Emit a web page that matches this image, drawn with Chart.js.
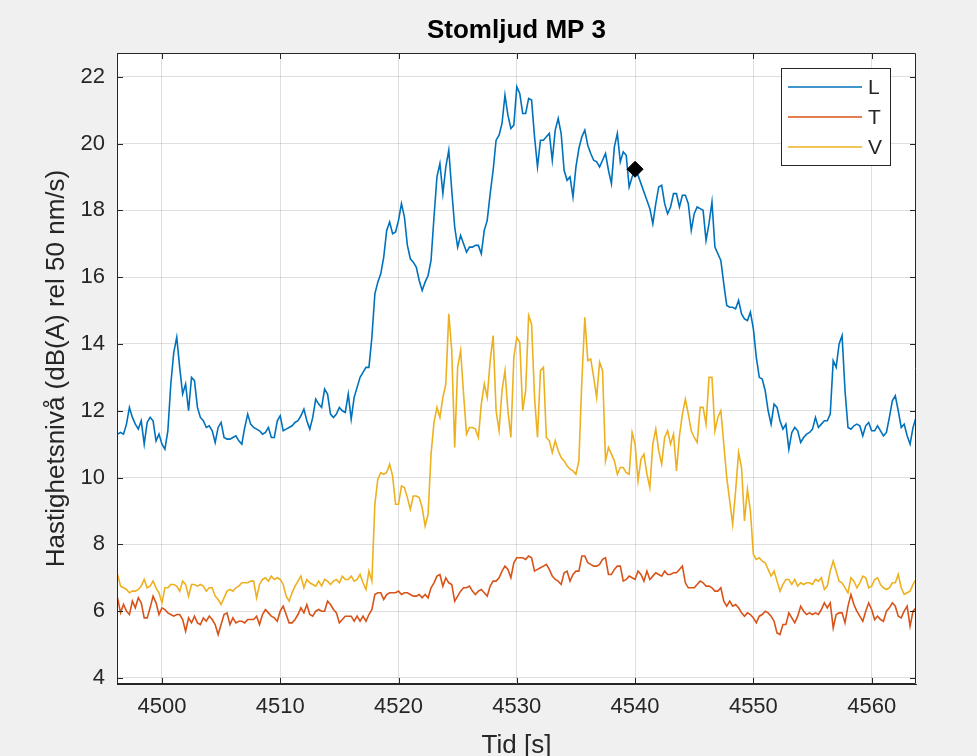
<!DOCTYPE html>
<html>
<head>
<meta charset="utf-8">
<title>Stomljud MP 3</title>
<script src="https://cdn.jsdelivr.net/npm/chart.js@4.4.1/dist/chart.umd.min.js"></script>
<style>
  html, body { margin: 0; padding: 0; background: #f0f0f0; }
  #wrap { width: 977px; height: 756px; }
</style>
</head>
<body>
<div id="wrap"><canvas id="chart" width="977" height="756"></canvas></div>
<script>
// texter
const chartTitle = "Stomljud MP 3";
const xLabel = "Tid [s]";
const yLabel = "Hastighetsnivå (dB(A) rel 50 nm/s)";
const seriesNames = ["L", "T", "V"];
const seriesColors = ["#0072BD", "#D95319", "#EDB120"];

// tidsaxel: ett värde var 0,25 s
const tStart = 4496.25;
const tStep = 0.25;
const xTicks = [4500, 4510, 4520, 4530, 4540, 4550, 4560];
const yTicks = [4, 6, 8, 10, 12, 14, 16, 18, 20, 22];

// avlästa nivåer (dB)
const L = [
  11.3, 11.35, 11.3, 11.6, 12.1, 11.8, 11.6, 11.45, 11.7, 11.0,
  11.65, 11.8, 11.7, 11.1, 11.3, 11.0, 10.85, 11.4, 12.8, 13.75,
  14.2, 13.3, 12.5, 12.8, 12.0, 13.0, 12.9, 12.1, 11.8, 11.7,
  11.5, 11.55, 11.4, 11.05, 11.5, 11.65, 11.2, 11.15, 11.15, 11.2,
  11.25, 11.1, 11.0, 11.5, 11.9, 11.6, 11.5, 11.45, 11.4, 11.3,
  11.35, 11.5, 11.2, 11.2, 11.7, 11.85, 11.4, 11.45, 11.5, 11.55,
  11.65, 11.7, 11.85, 12.05, 11.7, 11.45, 11.8, 12.35, 12.2, 12.1,
  12.65, 12.5, 11.9, 11.8, 11.9, 12.1, 12.0, 11.95, 12.5, 11.75,
  12.4, 12.7, 13.0, 13.15, 13.3, 13.3, 14.2, 15.5, 15.85, 16.1,
  16.6, 17.4, 17.65, 17.3, 17.35, 17.7, 18.2, 17.8, 16.95, 16.55,
  16.45, 16.3, 15.9, 15.6, 15.85, 16.05, 16.5, 17.8, 19.0, 19.4,
  18.5, 19.3, 19.8, 18.6, 17.5, 16.9, 17.25, 17.0, 16.75, 16.9,
  16.9, 16.95, 16.95, 16.7, 17.4, 17.7, 18.5, 19.2, 20.1, 20.25,
  20.6, 21.45, 20.85, 20.45, 20.55, 21.7, 21.5, 20.9, 20.9, 21.35,
  21.3, 20.2, 19.3, 20.1, 20.1, 20.2, 20.3, 19.5, 20.4, 20.75,
  20.3, 19.2, 18.9, 19.0, 18.4, 19.3, 19.85, 20.2, 20.4, 19.95,
  19.7, 19.5, 19.45, 19.3, 19.5, 19.7, 19.2, 18.8, 19.9, 20.3,
  19.45, 19.75, 19.65, 18.7, 19.0, 19.15, 19.05, 18.8, 18.55, 18.3,
  18.05, 17.6, 18.2, 18.7, 18.75, 18.2, 17.9, 18.1, 18.5, 18.5,
  18.1, 18.45, 18.45, 18.2, 17.4, 17.9, 18.1, 18.05, 18.0, 17.1,
  17.6, 18.25, 16.9, 16.7, 16.5, 15.8, 15.15, 15.1, 15.1, 15.05,
  15.3, 14.9, 14.75, 14.7, 14.95, 14.45, 13.6, 13.0, 12.95, 12.6,
  12.0, 11.6, 12.2, 12.1, 11.7, 11.45, 11.6, 10.85, 11.35, 11.5,
  11.4, 11.05, 11.2, 11.3, 11.35, 11.45, 11.8, 11.5, 11.6, 11.7,
  11.7, 11.9, 13.5, 13.3, 14.0, 14.25, 12.6, 11.5, 11.45, 11.55,
  11.6, 11.55, 11.25, 11.55, 11.65, 11.4, 11.4, 11.55, 11.4, 11.25,
  11.35, 11.8, 12.3, 12.45, 12.0, 11.5, 11.6, 11.25, 11.0, 11.5, 11.8
];

const T = [
  6.4, 5.95, 6.2, 6.0, 5.9, 6.3, 6.1, 6.4, 6.25, 5.8,
  5.8, 6.1, 6.45, 6.25, 5.9, 6.1, 6.05, 5.95, 5.9, 5.85,
  5.9, 5.9, 5.75, 5.4, 5.8, 5.65, 5.85, 5.65, 5.6, 5.8,
  5.7, 5.85, 5.75, 5.6, 5.3, 5.6, 5.9, 5.95, 5.6, 5.8,
  5.65, 5.7, 5.7, 5.65, 5.75, 5.75, 5.75, 5.85, 5.6, 5.9,
  6.05, 5.95, 5.85, 5.8, 5.7, 6.0, 6.15, 5.9, 5.65, 5.65,
  5.75, 5.9, 6.1, 5.95, 6.2, 5.9, 5.85, 6.0, 6.05, 6.0,
  6.0, 6.3, 6.2, 6.05, 5.95, 5.65, 5.75, 5.85, 5.85, 5.85,
  5.7, 5.85, 5.7, 5.85, 5.7, 5.9, 6.05, 6.5, 6.55, 6.55,
  6.35, 6.5, 6.55, 6.55, 6.55, 6.6, 6.5, 6.55, 6.55, 6.5,
  6.45, 6.45, 6.5, 6.4, 6.5, 6.4, 6.7, 6.85, 7.05, 7.1,
  6.75, 7.0, 6.85, 6.8, 6.3, 6.45, 6.6, 6.7, 6.7, 6.75,
  6.6, 6.5, 6.6, 6.65, 6.55, 6.45, 6.75, 6.9, 6.9, 7.0,
  7.2, 7.35, 7.25, 7.0, 7.45, 7.6, 7.6, 7.6, 7.55, 7.65,
  7.6, 7.2, 7.25, 7.3, 7.35, 7.4, 7.25, 7.05, 6.95, 6.9,
  6.8, 7.15, 7.2, 6.9, 7.1, 7.2, 7.2, 7.65, 7.65, 7.45,
  7.4, 7.35, 7.35, 7.4, 7.55, 7.6, 7.1, 7.1, 7.25, 7.35,
  7.35, 6.9, 6.95, 7.05, 7.0, 6.95, 7.2, 7.1, 6.9, 7.2,
  6.95, 7.05, 7.15, 7.1, 7.05, 7.2, 7.1, 7.1, 7.15, 7.15,
  7.25, 7.35, 6.85, 6.7, 6.7, 6.7, 6.8, 6.9, 6.85, 6.75,
  6.75, 6.7, 6.6, 6.6, 6.7, 6.3, 6.15, 6.3, 6.15, 6.2,
  6.1, 5.95, 5.85, 5.95, 5.9, 5.8, 5.65, 5.85, 5.9, 6.0,
  5.95, 5.85, 5.7, 5.35, 5.3, 5.6, 5.6, 5.95, 5.8, 5.65,
  5.85, 6.15, 6.0, 5.9, 5.95, 5.9, 5.95, 5.9, 6.05, 6.25,
  6.1, 6.25, 5.5, 5.9, 5.95, 5.95, 5.65, 6.15, 6.5, 6.2,
  6.0, 5.85, 5.7, 6.0, 6.25, 6.05, 5.75, 5.85, 5.75, 5.7,
  6.0, 6.1, 6.25, 6.15, 5.85, 5.8, 6.0, 6.15, 5.55, 6.0, 6.1
];

const V = [
  7.1, 6.75, 6.7, 6.65, 6.55, 6.6, 6.6, 6.65, 6.75, 6.95,
  6.7, 6.75, 6.9, 6.7, 6.55, 6.25, 6.7, 6.7, 6.8, 6.8,
  6.75, 6.6, 6.9, 6.8, 6.45, 6.8, 6.8, 6.75, 6.8, 6.75,
  6.6, 6.7, 6.7, 6.45, 6.35, 6.2, 6.4, 6.6, 6.65, 6.6,
  6.7, 6.75, 6.85, 6.85, 6.85, 6.9, 6.9, 6.4, 6.8, 6.95,
  7.0, 6.9, 7.05, 6.95, 7.0, 6.95, 6.8, 6.45, 6.3, 6.55,
  6.75, 6.9, 7.05, 6.7, 6.95, 6.85, 6.8, 6.75, 6.9, 6.75,
  6.95, 6.9, 6.8, 6.9, 6.95, 6.85, 7.05, 6.95, 6.95, 7.05,
  6.9, 6.95, 7.1, 6.85, 6.65, 7.2, 6.9, 9.2, 9.95, 10.15,
  10.1, 10.15, 10.4, 10.05, 9.2, 9.2, 9.75, 9.7, 9.4, 9.05,
  9.45, 9.45, 9.4, 9.1, 8.55, 8.9, 10.7, 11.65, 12.1, 11.8,
  12.4, 12.8, 14.9, 13.8, 10.9, 13.3, 13.8, 12.5, 11.3, 11.5,
  11.5, 11.45, 11.2, 12.2, 12.8, 12.4, 13.5, 14.25, 12.0, 11.4,
  12.6, 13.2, 12.0, 11.2, 13.6, 14.2, 14.05, 12.0, 12.6, 14.85,
  14.6, 12.4, 11.2, 13.2, 13.3, 11.2, 11.1, 10.75, 11.1, 10.8,
  10.6, 10.5, 10.35, 10.25, 10.2, 10.1, 10.5, 12.9, 14.8, 13.5,
  13.55, 13.0, 12.4, 13.45, 13.2, 10.5, 10.9, 10.7, 10.5, 10.1,
  10.3, 10.3, 10.15, 10.1, 11.35, 11.0, 9.9, 10.55, 10.7, 10.1,
  9.7, 11.0, 11.45, 10.8, 10.4, 11.2, 11.4, 11.0, 11.3, 10.2,
  11.25, 11.9, 12.35, 11.9, 11.4, 11.2, 11.05, 12.1, 12.1, 11.6,
  13.0, 13.0, 11.4, 11.8, 12.0, 11.0, 10.0, 9.3, 8.6, 9.6,
  10.75, 10.3, 8.7, 9.65, 9.0, 7.7, 7.55, 7.6, 7.5, 7.45,
  7.25, 7.05, 7.2, 6.9, 6.6, 6.8, 6.95, 6.95, 6.8, 6.95,
  6.75, 6.85, 6.8, 6.85, 6.85, 6.8, 6.95, 6.9, 7.0, 6.65,
  6.75, 7.2, 7.5, 7.2, 6.9, 6.85, 6.7, 6.55, 7.0, 6.9,
  6.7, 6.85, 7.05, 7.0, 6.7, 6.75, 6.95, 7.0, 6.8, 6.7,
  6.65, 6.7, 6.85, 6.85, 7.1, 6.7, 6.5, 6.55, 6.6, 6.8, 6.95
];

// markerad punkt
const markerTime = [4540];
const markerLevel = [19.23];

const times = L.map((_, i) => tStart + i * tStep);
const toPoints = (vals) => vals.map((v, i) => ({ x: times[i], y: v }));

const FONT = "'Liberation Sans', Arial, Helvetica, sans-serif";
const AXIS_COLOR = "#262626";
const GRID_COLOR = "rgba(38,38,38,0.15)";

// vit rityta
const plotBackground = {
  id: "plotBackground",
  beforeDraw(chart) {
    const { ctx, chartArea: a } = chart;
    ctx.save();
    ctx.fillStyle = "#ffffff";
    ctx.fillRect(a.left, a.top, a.right - a.left, a.bottom - a.top);
    ctx.restore();
  }
};

// ram + inåtriktade tickmarks på alla sidor (som i MATLAB)
const axesBox = {
  id: "axesBox",
  afterDatasetsDraw(chart) {
    const { ctx, chartArea: a, scales } = chart;
    const len = 6;
    ctx.save();
    ctx.strokeStyle = AXIS_COLOR;
    ctx.lineWidth = 1;
    ctx.beginPath();
    ctx.rect(a.left + 0.5, a.top + 0.5, a.right - a.left - 1, a.bottom - a.top - 1);
    scales.x.ticks.forEach(t => {
      const px = Math.round(scales.x.getPixelForValue(t.value)) + 0.5;
      ctx.moveTo(px, a.bottom); ctx.lineTo(px, a.bottom - len);
      ctx.moveTo(px, a.top); ctx.lineTo(px, a.top + len);
    });
    scales.y.ticks.forEach(t => {
      const py = Math.round(scales.y.getPixelForValue(t.value)) + 0.5;
      ctx.moveTo(a.left, py); ctx.lineTo(a.left + len, py);
      ctx.moveTo(a.right, py); ctx.lineTo(a.right - len, py);
    });
    ctx.stroke();
    ctx.restore();
  }
};

// rubrik centrerad över ritytan
const titlePlugin = {
  id: "titlePlugin",
  afterDraw(chart) {
    const { ctx, chartArea: a } = chart;
    ctx.save();
    ctx.fillStyle = "#000000";
    ctx.font = "bold 26px " + FONT;
    ctx.textAlign = "center";
    ctx.textBaseline = "middle";
    ctx.fillText(chartTitle, (a.left + a.right) / 2, 31);
    ctx.restore();
  }
};

// legend i övre högra hörnet med ram
const boxLegend = {
  id: "boxLegend",
  afterDraw(chart) {
    const { ctx, chartArea: a } = chart;
    const sets = chart.data.datasets.filter(d => d.inLegend);
    const w = 109, rowH = 30;
    const h = 97;
    const x0 = a.right - 26 - w, y0 = a.top + 15;
    ctx.save();
    ctx.fillStyle = "#ffffff";
    ctx.fillRect(x0, y0, w, h);
    ctx.strokeStyle = AXIS_COLOR;
    ctx.lineWidth = 1;
    ctx.strokeRect(x0 + 0.5, y0 + 0.5, w, h);
    ctx.font = "21px " + FONT;
    ctx.textBaseline = "middle";
    ctx.textAlign = "left";
    sets.forEach((d, i) => {
      const y = y0 + 19 + i * rowH;
      ctx.strokeStyle = d.borderColor;
      ctx.lineWidth = 1.6;
      ctx.beginPath();
      ctx.moveTo(x0 + 7, y);
      ctx.lineTo(x0 + 81, y);
      ctx.stroke();
      ctx.fillStyle = AXIS_COLOR;
      ctx.fillText(d.label, x0 + 87, y + 1);
    });
    ctx.restore();
  }
};

const lineSet = (name, vals, color, order) => ({
  label: name,
  data: toPoints(vals),
  borderColor: color,
  backgroundColor: color,
  borderWidth: 1.6,
  pointRadius: 0,
  tension: 0,
  order: order,
  inLegend: true
});

new Chart(document.getElementById("chart"), {
  type: "line",
  data: {
    datasets: [
      lineSet(seriesNames[0], L, seriesColors[0], 2),
      lineSet(seriesNames[1], T, seriesColors[1], 1),
      lineSet(seriesNames[2], V, seriesColors[2], 0),
      {
        label: "markör",
        data: markerTime.map((t, i) => ({ x: t, y: markerLevel[i] })),
        showLine: false,
        pointStyle: "rectRot",
        pointRadius: 8,
        pointBackgroundColor: "#000000",
        pointBorderColor: "#000000",
        borderColor: "#000000",
        order: -1,
        inLegend: false
      }
    ]
  },
  options: {
    responsive: false,
    animation: false,
    devicePixelRatio: 1,
    layout: { padding: { left: 0, top: 53, right: 61, bottom: 0 } },
    plugins: {
      legend: { display: false },
      tooltip: { enabled: false },
      title: { display: false }
    },
    scales: {
      x: {
        type: "linear",
        min: 4496.2,
        max: 4563.75,
        afterBuildTicks: s => { s.ticks = xTicks.map(v => ({ value: v })); },
        afterFit: s => { s.height = 72; },
        grid: { color: GRID_COLOR, lineWidth: 1, drawTicks: false },
        border: { display: true, color: AXIS_COLOR, width: 1 },
        ticks: {
          color: AXIS_COLOR,
          font: { family: FONT, size: 22 },
          padding: 10,
          maxRotation: 0,
          callback: v => String(v)
        },
        title: {
          display: true,
          text: xLabel,
          color: AXIS_COLOR,
          font: { family: FONT, size: 26, lineHeight: 1.2 },
          padding: { top: 0, bottom: -5 }
        }
      },
      y: {
        type: "linear",
        min: 3.82,
        max: 22.71,
        afterBuildTicks: s => { s.ticks = yTicks.map(v => ({ value: v })); },
        afterFit: s => { s.width = 117; },
        grid: { color: GRID_COLOR, lineWidth: 1, drawTicks: false },
        border: { display: true, color: AXIS_COLOR, width: 1 },
        ticks: {
          color: AXIS_COLOR,
          font: { family: FONT, size: 22 },
          padding: 12,
          callback: v => String(v)
        },
        title: {
          display: true,
          text: yLabel,
          color: AXIS_COLOR,
          font: { family: FONT, size: 26, lineHeight: 1.2 },
          padding: { top: 41, bottom: 0 }
        }
      }
    }
  },
  plugins: [plotBackground, axesBox, titlePlugin, boxLegend]
});
</script>
</body>
</html>
